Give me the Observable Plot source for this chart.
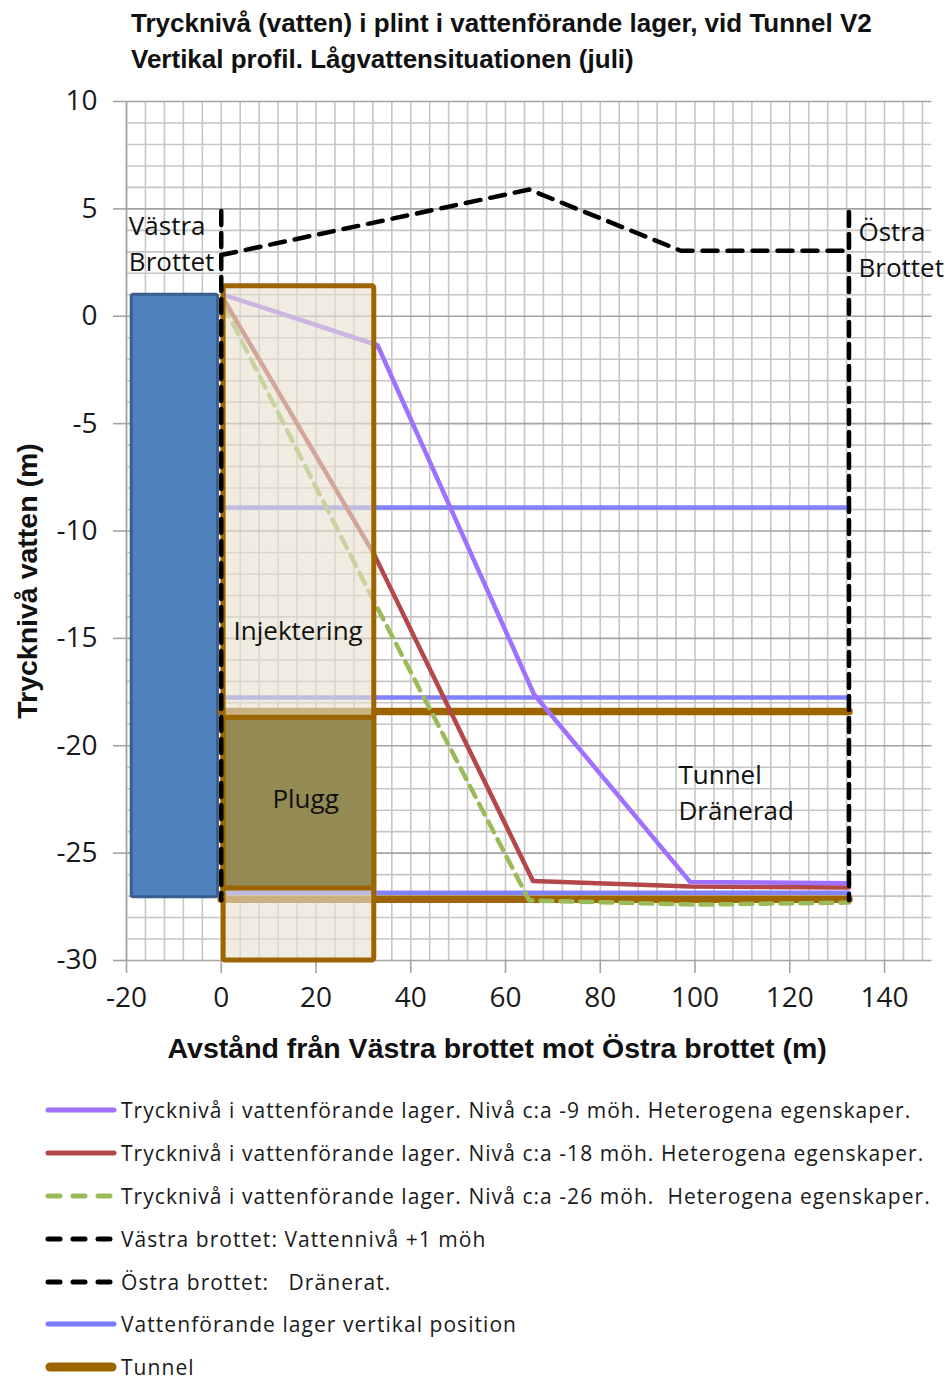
<!DOCTYPE html>
<html><head><meta charset="utf-8">
<script src="https://cdn.jsdelivr.net/npm/d3@7"></script>
<script src="https://cdn.jsdelivr.net/npm/@observablehq/plot@0.6"></script>
<style>
body{margin:0;background:#fff;width:948px;height:1399px;overflow:hidden;font-family:"Open Sans",sans-serif;}
#title{height:85px;box-sizing:border-box;padding:5px 0 0 131px;font-family:"Liberation Sans Narrow","Liberation Sans",sans-serif;font-weight:bold;font-size:26px;line-height:36px;color:#111;white-space:nowrap;}
#chart svg{display:block;overflow:visible;}
#legend{padding-top:9px;}
.row{display:flex;align-items:center;height:42.8px;}
.row svg{margin-left:45px;width:72px;height:12px;flex:none;}
.row span{margin-left:4px;font-size:21px;letter-spacing:1.05px;color:#1a1a1a;white-space:pre;}
</style></head><body>
<div id="title">Trycknivå (vatten) i plint i vattenförande lager, vid Tunnel V2<br>Vertikal profil. Lågvattensituationen (juli)</div>
<div id="chart"></div>
<div id="legend"></div>
<script>
// ---- axis ticks ----
const xTicks = [-20, 0, 20, 40, 60, 80, 100, 120, 140];
const yTicks = [10, 5, 0, -5, -10, -15, -20, -25, -30];

// ---- pressure level series (distance m, level m) ----
const p9X = [0.5, 33, 66, 99, 132.5];
const p9Y = [1.0, -1.35, -17.6, -26.35, -26.4];
const p18X = [0.5, 32.3, 65.8, 99, 132.5];
const p18Y = [0.8, -11.1, -26.3, -26.55, -26.6];
const p26X = [0.5, 32.3, 65, 100, 132.5];
const p26Y = [0.5, -13.3, -27.2, -27.4, -27.3];

// ---- Västra brottet (vertical at 0) ----
const vastraX = [0, 0];
const vastraY = [4.9, -27.2];
// ---- Östra brottet: ground profile and vertical at east end ----
const ostraProfileX = [0, 65, 97, 132.5];
const ostraProfileY = [2.85, 5.9, 3.05, 3.05];
const ostraVertX = [132.5, 132.5];
const ostraVertY = [4.85, -27.2];

// ---- water bearing layers (vertical position) ----
const layerLevels = [-8.9, -17.75, -26.85];
const layerStart = 0;
const layerEnd = 132.5;

// ---- tunnel ----
const tunnelLevels = [-18.4, -27.15];
const tunnelStart = 0;
const tunnelEnd = 132.5;

// ---- boxes ----
const boxNames = ["Vatten", "Injektering", "Plugg"];
const boxX1 = [-18.9, 0.5, 0.5];
const boxX2 = [-0.7, 32.3, 32.3];
const boxY1 = [-27.05, -30, -26.65];
const boxY2 = [1.0, 1.4, -18.7];

// ---- in-plot labels ----
const labelText = ["Västra\nBrottet", "Östra\nBrottet", "Injektering", "Plugg", "Tunnel\nDränerad"];
const labelX = [-19.5, 134.5, 2.6, 10.8, 96.5];
const labelY = [3.48, 3.22, -14.54, -22.36, -22.08];

const legendItems = [
  "Trycknivå i vattenförande lager. Nivå c:a -9 möh. Heterogena egenskaper.",
  "Trycknivå i vattenförande lager. Nivå c:a -18 möh. Heterogena egenskaper.",
  "Trycknivå i vattenförande lager. Nivå c:a -26 möh.  Heterogena egenskaper.",
  "Västra brottet: Vattennivå +1 möh",
  "Östra brottet:   Dränerat.",
  "Vattenförande lager vertikal position",
  "Tunnel"
];

// ---- styling ----
const C_P9 = "#a070ff", C_P18 = "#b3474a", C_P26 = "#9bbb59";
const C_LAYER = "#7b7bff", C_TUNNEL = "#9c6500";
const NARROW = '"Liberation Sans Narrow","Liberation Sans",sans-serif';

const toRows = (xs, ys) => xs.map((x, i) => ({x, y: ys[i]}));
const boxes = boxNames.map((n, i) => ({n, x1: boxX1[i], x2: boxX2[i], y1: boxY1[i], y2: boxY2[i]}));
const layerRows = layerLevels.flatMap((y, k) => [{x: layerStart, y, k}, {x: layerEnd, y, k}]);
const tunnelRows = tunnelLevels.flatMap((y, k) => [{x: tunnelStart, y, k}, {x: tunnelEnd, y, k}]);
const labels = labelText.map((t, i) => ({t, x: labelX[i], y: labelY[i]}));

const xMinor = d3.range(-20, 150, 4);
const yMinor = d3.range(-30, 10.5, 1).filter(v => v % 5 !== 0);

const plot = Plot.plot({
  width: 948, height: 995,
  marginTop: 16, marginBottom: 120, marginLeft: 126, marginRight: 16.6,
  x: {domain: [-20, 150]},
  y: {domain: [-30, 10]},
  style: {fontFamily: '"Open Sans",sans-serif', background: "transparent", overflow: "visible"},
  marks: [
    Plot.gridX(xMinor, {stroke: "#c6c6c6", strokeOpacity: 1, strokeWidth: 1.6}),
    Plot.gridY(yMinor, {stroke: "#c6c6c6", strokeOpacity: 1, strokeWidth: 1.6}),
    Plot.gridY(yTicks, {stroke: "#a3a3a3", strokeOpacity: 1, strokeWidth: 1.6}),
    Plot.ruleX([-20], {stroke: "#a3a3a3", strokeWidth: 1.6}),
    Plot.axisX(xTicks, {tickSize: 13, tickPadding: 14, stroke: "#a3a3a3", fill: "#1a1a1a", fontSize: 28, tickFormat: d => String(d), label: null, strokeWidth: 1.6}),
    Plot.axisY(yTicks, {tickSize: 13, tickPadding: 16, stroke: "#a3a3a3", fill: "#1a1a1a", fontSize: 28, tickFormat: d => String(d), label: null, strokeWidth: 1.6}),
    // blue water box
    Plot.rect(boxes.filter(b => b.n === "Vatten"), {x1: "x1", x2: "x2", y1: "y1", y2: "y2", fill: "#4f81bd", stroke: "#3a5f8c", strokeWidth: 3, rx: 2}),
    // layers & tunnel
    Plot.line(layerRows, {x: "x", y: "y", z: "k", stroke: C_LAYER, strokeWidth: 4.5, strokeOpacity: 0.95}),
    Plot.line(tunnelRows, {x: "x", y: "y", z: "k", stroke: C_TUNNEL, strokeWidth: 7.5, strokeLinecap: "round"}),
    // pressure lines
    Plot.line(toRows(p26X, p26Y), {x: "x", y: "y", stroke: C_P26, strokeWidth: 4.5, strokeDasharray: "12 8"}),
    Plot.line(toRows(p18X, p18Y), {x: "x", y: "y", stroke: C_P18, strokeWidth: 4.5}),
    Plot.line(toRows(p9X, p9Y), {x: "x", y: "y", stroke: C_P9, strokeWidth: 4.5}),
    // boxes on top
    Plot.rect(boxes.filter(b => b.n === "Injektering"), {x1: "x1", x2: "x2", y1: "y1", y2: "y2", fill: "#e6e0cf", fillOpacity: 0.62, stroke: C_TUNNEL, strokeWidth: 5, rx: 2}),
    Plot.rect(boxes.filter(b => b.n === "Plugg"), {x1: "x1", x2: "x2", y1: "y1", y2: "y2", fill: "#948a54", stroke: C_TUNNEL, strokeWidth: 5}),
    // black dashed
    Plot.line(toRows(vastraX, vastraY), {x: "x", y: "y", stroke: "#000", strokeWidth: 4.5, strokeDasharray: "14 8"}),
    Plot.line(toRows(ostraProfileX, ostraProfileY), {x: "x", y: "y", stroke: "#000", strokeWidth: 4.5, strokeDasharray: "15 10"}),
    Plot.line(toRows(ostraVertX, ostraVertY), {x: "x", y: "y", stroke: "#000", strokeWidth: 4.5, strokeDasharray: "14 8"}),
    // labels
    Plot.text(labels, {x: "x", y: "y", text: "t", textAnchor: "start", lineAnchor: "middle", fontSize: 26, lineHeight: 1.4, fill: "#111"}),
    // axis titles
    Plot.text(["Avstånd från Västra brottet mot Östra brottet (m)"], {frameAnchor: "bottom", textAnchor: "middle", lineAnchor: "middle", dx: -32, dy: 88, fontSize: 28.5, fontWeight: "bold", fontFamily: NARROW, fill: "#111"}),
    Plot.text(["Trycknivå vatten (m)"], {frameAnchor: "left", textAnchor: "middle", lineAnchor: "middle", dx: -99, dy: 50, rotate: -90, fontSize: 28.5, fontWeight: "bold", fontFamily: NARROW, fill: "#111"})
  ]
});
document.getElementById("chart").appendChild(plot);

// ---- legend ----
const swatches = [
  `<line x1="3" y1="6" x2="69" y2="6" stroke="${C_P9}" stroke-width="5" stroke-linecap="round"/>`,
  `<line x1="3" y1="6" x2="69" y2="6" stroke="${C_P18}" stroke-width="5" stroke-linecap="round"/>`,
  `<line x1="3" y1="6" x2="69" y2="6" stroke="${C_P26}" stroke-width="5" stroke-linecap="round" stroke-dasharray="12 13"/>`,
  `<line x1="3" y1="6" x2="69" y2="6" stroke="#000" stroke-width="5" stroke-linecap="round" stroke-dasharray="12 13"/>`,
  `<line x1="3" y1="6" x2="69" y2="6" stroke="#000" stroke-width="5" stroke-linecap="round" stroke-dasharray="12 13"/>`,
  `<line x1="3" y1="6" x2="69" y2="6" stroke="${C_LAYER}" stroke-width="5" stroke-linecap="round"/>`,
  `<line x1="5" y1="6" x2="67" y2="6" stroke="${C_TUNNEL}" stroke-width="9" stroke-linecap="round"/>`
];
const leg = document.getElementById("legend");
legendItems.forEach((t, i) => {
  const row = document.createElement("div");
  row.className = "row";
  row.innerHTML = `<svg viewBox="0 0 72 12">${swatches[i]}</svg><span></span>`;
  row.querySelector("span").textContent = t;
  leg.appendChild(row);
});
</script>
</body></html>
